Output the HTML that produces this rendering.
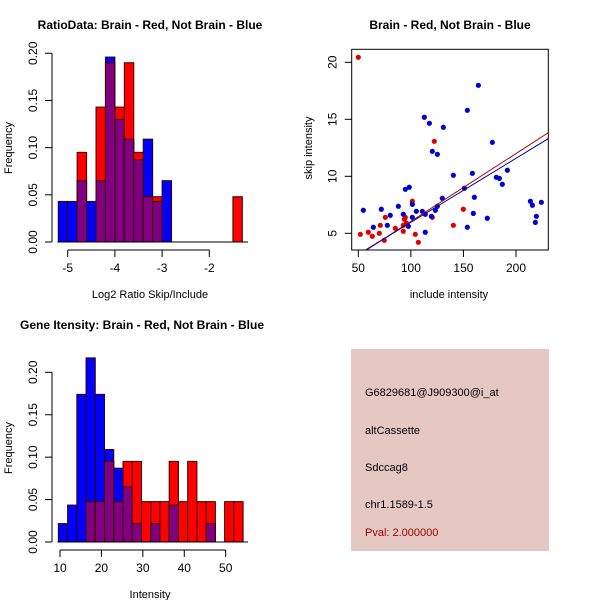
<!DOCTYPE html>
<html><head><meta charset="utf-8"><style>
body{margin:0;background:#fff;}
svg{display:block;font-family:"Liberation Sans",sans-serif;}
</style></head><body>
<svg id="s" width="600" height="600">
<rect width="600" height="600" fill="#fff"/>
</svg>
<script>
// ---- Data: ratio histogram (bins of width 0.2 starting at -5.2)
const ratioBreakStart = -5.2;
const ratioBinWidth = 0.2;
const ratioBlue = [0.043,0.043,0.065,0.043,0.065,0.196,0.13,0.109,0.087,0.109,0.043,0.065];
const ratioRed = [0,0,0.095,0,0.143,0.19,0.143,0.19,0.095,0.048,0.048,0];
const ratioRedExtraX = [-1.5];
const ratioRedExtraY = [0.048];
const ratioXTicks = [-5,-4,-3,-2];
const ratioYTicks = [0,0.05,0.10,0.15,0.20];
const ratioYLabels = ["0.00","0.05","0.10","0.15","0.20"];

// ---- Data: scatter
const redX = [50,51.9,59.5,63.3,70,70.9,75.7,74.7,85.2,92.8,92.8,93.8,94.7,95.7,101.4,104.2,107.1,120.4,122.3,140.4,149.9];
const redY = [20.44,4.91,5.09,4.74,5.0,5.70,6.40,4.39,5.44,5.18,5.70,6.23,6.40,5.88,7.81,4.91,4.21,6.40,13.07,5.70,7.11];
const blueX = [54.8,64.3,71.9,77.6,80.4,88.1,92.8,94.7,98.5,97.6,101.4,101.4,105.2,110.9,113.7,113.7,112.8,117.6,119.5,120.4,123.3,125.2,125.2,130.9,129.9,140.4,150.9,153.7,153.7,158.5,160.4,159.4,164.2,172.7,177.5,181.3,184.2,187.0,191.8,213.7,215.6,219.4,218.4,224.1];
const blueY = [7.02,5.53,7.11,5.70,6.58,7.37,6.67,8.86,9.04,5.61,7.54,6.40,6.93,6.93,6.67,5.09,15.18,14.65,6.49,12.19,7.02,11.93,7.37,14.30,8.07,10.09,8.95,5.53,15.79,10.26,8.16,6.75,17.98,6.32,12.98,9.91,9.82,9.30,10.53,7.81,7.46,6.49,5.96,7.72];
const fitRed = [0.095,0.0595];   // intercept, slope
const fitBlue = [0.34,0.0562];
const scXTicks = [50,100,150,200];
const scYTicks = [5,10,15,20];

// ---- Data: intensity histogram
const intBreakStart = 9.6;
const intBinWidth = 2.23;
const intBlue = [0.0217,0.0435,0.174,0.217,0.174,0.109,0.087,0.065,0.0217,0,0.0217,0,0.0435,0,0,0,0.0217,0,0,0];
const intRed = [0,0,0,0.0476,0.0476,0.095,0.0476,0.095,0.095,0.0476,0.0476,0.0476,0.095,0.0476,0.095,0.0476,0.0476,0,0.0476,0.0476];
const intXTicks = [10,20,30,40,50];
const intYTicks = [0,0.05,0.10,0.15,0.20];
const intYLabels = ["0.00","0.05","0.10","0.15","0.20"];

const svg = document.getElementById('s');
const NS = 'http://www.w3.org/2000/svg';
function mk(tag, attrs, parent){
  const e = document.createElementNS(NS, tag);
  for (const k in attrs) e.setAttribute(k, attrs[k]);
  (parent||svg).appendChild(e);
  return e;
}
function txt(x,y,s,size,opts,parent){
  const e = mk('text', Object.assign({x:x,y:y,'font-size':size,'text-anchor':'middle',fill:'#000'}, opts||{}), parent);
  e.textContent = s;
  return e;
}
function lin(d0,d1,p0,p1){ return v => p0 + (v-d0)*(p1-p0)/(d1-d0); }

function hist(g, sx, sy, start, w, blue, red, extraX, extraY){
  const n = Math.max(blue.length, red.length);
  for (let i=0;i<n;i++){
    const x0 = start + i*w, x1 = x0 + w;
    const b = blue[i]||0, r = red[i]||0;
    const bars = [];
    if (b>0) bars.push(['#0000ff', b, 'blue']);
    if (r>0) bars.push(['#ff0000', r, 'red']);
    if (b>0 && r>0) bars.push(['#800080', Math.min(b,r), 'overlap']);
    bars.forEach(([c,v,nm])=>{
      const rc = mk('rect',{x:sx(x0),y:sy(v),width:sx(x1)-sx(x0),height:sy(0)-sy(v),fill:c,stroke:'#3a0000','stroke-width':1},g);
      
      
    });
  }
  (extraX||[]).forEach((x0,i)=>{
    const v = extraY[i];
    const rc = mk('rect',{x:sx(x0),y:sy(v),width:sx(x0+w)-sx(x0),height:sy(0)-sy(v),fill:'#ff0000',stroke:'#3a0000','stroke-width':1},g);
    
    
  });
}
function xAxis(g, sx, y, ticks, labels){
  mk('line',{x1:sx(ticks[0]),x2:sx(ticks[ticks.length-1]),y1:y,y2:y,stroke:'#000'},g);
  ticks.forEach((t,i)=>{
    mk('line',{x1:sx(t),x2:sx(t),y1:y,y2:y+7,stroke:'#000'},g);
    txt(sx(t), y+22, labels?labels[i]:String(t), 12, {}, g);
  });
}
function yAxis(g, sy, x, ticks, labels){
  mk('line',{x1:x,x2:x,y1:sy(ticks[0]),y2:sy(ticks[ticks.length-1]),stroke:'#000'},g);
  ticks.forEach((t,i)=>{
    mk('line',{x1:x,x2:x-7,y1:sy(t),y2:sy(t),stroke:'#000'},g);
    const tx = x-15, ty = sy(t);
    txt(tx, ty, labels?labels[i]:String(t), 12, {transform:`rotate(-90 ${tx} ${ty})`}, g);
  });
}

// ---- Panel 1
(function(){
  const g = mk('g',{});
  
  
  const sx = lin(-5,-2,67.7,209.3), sy = lin(0,0.2,242,53.3);
  hist(g,sx,sy,ratioBreakStart,ratioBinWidth,ratioBlue,ratioRed,ratioRedExtraX,ratioRedExtraY);
  mk('line',{x1:sx(ratioBreakStart)-1,x2:248,y1:sy(0),y2:sy(0),stroke:'#000'},g);
  xAxis(g,sx,250,ratioXTicks);
  yAxis(g,sy,52,ratioYTicks,ratioYLabels);
  txt(150,29,'RatioData: Brain - Red, Not Brain - Blue',12,{'font-weight':'bold'},g);
  txt(150,298,'Log2 Ratio Skip/Include',11,{},g);
  txt(12,148,'Frequency',11,{transform:'rotate(-90 12 148)'},g);
})();

// ---- Panel 2
(function(){
  const g = mk('g',{});
  
  
  const sx = lin(50,200,358.3,516), sy = lin(5,20,233.3,62.3);
  const L=351.7,R=548.3,T=49.3,B=250;
  const cp = mk('clipPath',{id:'cp2'},g);
  mk('rect',{x:L,y:T,width:R-L,height:B-T},cp);
  const inner = mk('g',{'clip-path':'url(#cp2)'},g);
  redX.forEach((x,i)=>{
    const c = mk('circle',{cx:sx(x),cy:sy(redY[i]),r:2.6,fill:'#e00000'},inner);
    
    
  });
  blueX.forEach((x,i)=>{
    const c = mk('circle',{cx:sx(x),cy:sy(blueY[i]),r:2.6,fill:'#0000d0'},inner);
    
    
  });
  const xa=40, xb=240;
  const lr = mk('line',{x1:sx(xa),y1:sy(fitRed[0]+fitRed[1]*xa),x2:sx(xb),y2:sy(fitRed[0]+fitRed[1]*xb),stroke:'#b00000','stroke-width':1},inner);
  
  
  const lb = mk('line',{x1:sx(xa),y1:sy(fitBlue[0]+fitBlue[1]*xa),x2:sx(xb),y2:sy(fitBlue[0]+fitBlue[1]*xb),stroke:'#0000a0','stroke-width':1},inner);
  
  
  mk('rect',{x:L,y:T,width:R-L,height:B-T,fill:'none',stroke:'#000'},g);
  scXTicks.forEach(t=>{
    mk('line',{x1:sx(t),x2:sx(t),y1:B,y2:B+7,stroke:'#000'},g);
    txt(sx(t),B+22,String(t),12,{},g);
  });
  scYTicks.forEach(t=>{
    mk('line',{x1:L,x2:L-7,y1:sy(t),y2:sy(t),stroke:'#000'},g);
    const tx=L-15, ty=sy(t);
    txt(tx,ty,String(t),12,{transform:`rotate(-90 ${tx} ${ty})`},g);
  });
  txt(450,29,'Brain - Red, Not Brain - Blue',12,{'font-weight':'bold'},g);
  txt(449,298,'include intensity',11,{},g);
  txt(312,148,'skip intensity',11,{transform:'rotate(-90 312 148)'},g);
})();

// ---- Panel 3
(function(){
  const g = mk('g',{});
  
  
  const sx = lin(10,50,60,225.7), sy = lin(0,0.2,542,372.3);
  hist(g,sx,sy,intBreakStart,intBinWidth,intBlue,intRed);
  mk('line',{x1:sx(intBreakStart)-1,x2:248,y1:sy(0),y2:sy(0),stroke:'#000'},g);
  xAxis(g,sx,550,intXTicks);
  yAxis(g,sy,52,intYTicks,intYLabels);
  txt(142,329,'Gene Itensity: Brain - Red, Not Brain - Blue',12,{'font-weight':'bold'},g);
  txt(150,598,'Intensity',11,{},g);
  txt(12,448,'Frequency',11,{transform:'rotate(-90 12 448)'},g);
})();

// ---- Panel 4 info box
(function(){
  const g = mk('g',{});
  
  
  mk('rect',{x:351,y:349,width:198,height:202,fill:'#e6c8c2'},g);
  const lines = [['G6829681@J909300@i_at',396,'#000'],['altCassette',434,'#000'],['Sdccag8',471,'#000'],['chr1.1589-1.5',508,'#000'],['Pval: 2.000000',536,'#a00000']];
  lines.forEach(([s,y,c])=>{ txt(365,y,s,11,{'text-anchor':'start',fill:c},g); });
})();
</script>
</body></html>
